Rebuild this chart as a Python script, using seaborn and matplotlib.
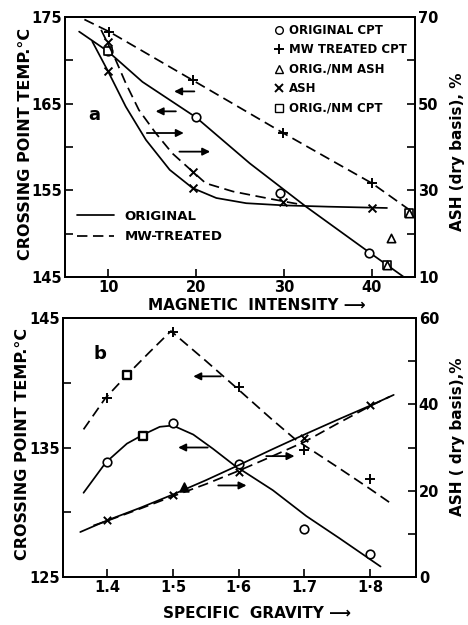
import matplotlib
matplotlib.use("Agg")
import matplotlib.pyplot as plt
from matplotlib.lines import Line2D
import seaborn as sns

sns.set_theme(style="white")
plt.rcParams['font.family'] = ['DejaVu Sans']
plt.rcParams['font.weight'] = 'bold'
plt.rcParams['text.color'] = 'black'
plt.rcParams['axes.labelcolor'] = 'black'
plt.rcParams['axes.edgecolor'] = 'black'
plt.rcParams['axes.linewidth'] = 1.4

# ---------------- Panel (a): magnetic intensity ----------------
mi_ticks = [10, 20, 30, 40]
a_temp_ticks = [145, 150, 155, 160, 165, 170, 175]
a_temp_labels = ['145', '', '155', '', '165', '', '175']
a_ash_ticks = [10, 20, 30, 40, 50, 60, 70]
a_ash_labels = ['10', '', '30', '', '50', '', '70']

a_orig_cpt_x = [10, 20, 29.5, 39.7]
a_orig_cpt_y = [171.1, 163.5, 154.7, 147.8]
a_mw_cpt_x = [10.1, 19.6, 29.9, 40.0]
a_mw_cpt_y = [173.3, 167.7, 161.6, 155.8]
a_ash_x = [10, 10, 19.6, 19.6, 29.9, 40.0]
a_ash_y = [57.4, 64.3, 30.5, 34.3, 27.2, 25.9]
a_nm_cpt_x = [10, 41.7, 44.2]
a_nm_cpt_y = [171.1, 146.4, 152.4]
a_nm_ash_x = [42.2, 41.7, 44.2]
a_nm_ash_y = [18.9, 12.8, 24.8]

a_orig_cpt_curve_x = [6.7, 10, 13.9, 20, 26.1, 32.5, 40, 43.6]
a_orig_cpt_curve_y = [173.3, 171.0, 167.5, 163.4, 158.1, 153.1, 147.6, 145.0]
a_mw_cpt_curve_x = [7.3, 10.1, 19.6, 29.9, 40.0, 44.3]
a_mw_cpt_curve_y = [174.7, 173.3, 167.7, 161.6, 155.8, 152.7]
a_orig_ash_curve_x = [8.2, 10, 12.0, 14.3, 17.0, 19.6, 22.3, 25.7, 30, 35, 41.7]
a_orig_ash_curve_y = [64.3, 57.4, 49.3, 41.6, 34.7, 30.5, 28.2, 27.0, 26.5, 26.2, 25.9]
a_mw_ash_curve_x = [9.2, 10.7, 12.0, 13.5, 15.4, 17.3, 19.6, 21.1, 24.2, 27.2, 30, 32.2]
a_mw_ash_curve_y = [67.0, 60.8, 54.7, 48.5, 43.2, 38.5, 34.3, 31.6, 29.7, 28.5, 27.4, 26.6]

# arrows: (tail_x, head_x, y)
a_left_arrows = [(19.8, 17.5, 166.4), (17.7, 15.4, 164.1)]
a_right_arrows = [(14.4, 18.6, 43.2), (18.1, 21.6, 38.9)]

# ---------------- Panel (b): specific gravity ----------------
sg_ticks = [1.4, 1.5, 1.6, 1.7, 1.8]
sg_labels = ['1.4', '1·5', '1·6', '1.7', '1·8']
b_temp_ticks = [125, 130, 135, 140, 145]
b_temp_labels = ['125', '', '135', '', '145']
b_ash_ticks = [0, 10, 20, 30, 40, 50, 60]
b_ash_labels = ['0', '', '20', '', '40', '', '60']

b_orig_cpt_x = [1.40, 1.50, 1.60, 1.70, 1.80]
b_orig_cpt_y = [133.85, 136.9, 133.7, 128.7, 126.8]
b_mw_cpt_x = [1.40, 1.50, 1.60, 1.70, 1.80]
b_mw_cpt_y = [138.8, 143.95, 139.7, 134.8, 132.6]
b_nm_cpt_x = [1.43, 1.455]
b_nm_cpt_y = [140.6, 135.9]
b_nm_ash_x = [1.517]
b_nm_ash_y = [20.9]
b_ash_x = [1.40, 1.50, 1.60, 1.70, 1.80]
b_ash_y = [13.3, 18.9, 24.3, 32.1, 39.8]

b_orig_cpt_curve_x = [1.364, 1.398, 1.43, 1.455, 1.48, 1.50, 1.531, 1.561, 1.594, 1.652, 1.703, 1.753, 1.816]
b_orig_cpt_curve_y = [131.5, 133.85, 135.3, 136.0, 136.6, 136.7, 136.0, 134.9, 133.6, 131.7, 129.7, 128.0, 125.8]
b_mw_cpt_curve_x = [1.364, 1.397, 1.43, 1.465, 1.497, 1.55, 1.597, 1.65, 1.687, 1.75, 1.80, 1.834]
b_mw_cpt_curve_y = [136.4, 138.8, 140.6, 142.4, 144.0, 141.7, 139.6, 137.2, 135.6, 133.5, 131.8, 130.6]
b_orig_ash_curve_x = [1.359, 1.40, 1.45, 1.50, 1.55, 1.60, 1.65, 1.70, 1.75, 1.80, 1.836]
b_orig_ash_curve_y = [10.4, 13.1, 16.0, 19.1, 22.4, 25.9, 29.5, 33.0, 36.4, 39.7, 42.2]
b_mw_ash_curve_x = [1.379, 1.40, 1.45, 1.50, 1.55, 1.60, 1.65, 1.70, 1.75, 1.80, 1.83]
b_mw_ash_curve_y = [11.9, 13.0, 15.8, 18.7, 21.5, 24.6, 27.9, 31.3, 35.5, 39.6, 41.8]

b_left_arrows = [(1.573, 1.531, 140.5), (1.553, 1.508, 135.0)]
b_right_arrows = [(1.569, 1.612, 21.2), (1.642, 1.685, 28.0)]

# ---------------- styling ----------------
LW = 1.25
DASH = (0, (6, 3.2))
TICKFS = 10.5

fig = plt.figure(figsize=(4.68, 6.25), dpi=100)
fig.patch.set_facecolor('white')

ax_a = fig.add_axes([0.139, 0.557, 0.748, 0.416])
ax_b = fig.add_axes([0.135, 0.077, 0.754, 0.414])


def line(ax, x, y, dashed=False):
    sns.lineplot(x=x, y=y, ax=ax, color='black', lw=LW, sort=False,
                 estimator=None, linestyle=DASH if dashed else '-')


def pts(ax, x, y, marker, s, filled=False, lw=1.2):
    if marker in ('+', 'x'):
        sns.scatterplot(x=x, y=y, ax=ax, marker=marker, s=s, color='black',
                        linewidth=lw, zorder=4)
    else:
        sns.scatterplot(x=x, y=y, ax=ax, marker=marker, s=s,
                        color='black' if filled else 'white',
                        edgecolor='black', linewidth=lw, zorder=4)


def arrow(ax, tail, head, y):
    ax.annotate('', xy=(head, y), xytext=(tail, y),
                arrowprops=dict(arrowstyle='-|>', color='black', lw=1.3,
                                mutation_scale=11, shrinkA=0, shrinkB=0))


def style_axes(ax, ax2):
    for a in (ax, ax2):
        a.tick_params(which='both', direction='in', length=6, width=1.2,
                      labelsize=TICKFS, colors='black', pad=2)
        for sp in a.spines.values():
            sp.set_linewidth(1.4)
            sp.set_color('black')
        a.set_xlabel('')
        a.set_ylabel('')
        a.grid(False)
    ax.tick_params(axis='y', left=True, right=False)
    ax.tick_params(axis='x', bottom=True, top=False)
    ax2.tick_params(axis='y', right=True, left=False)


# ---------- Panel a ----------
ax2_a = ax_a.twinx()
line(ax_a, a_orig_cpt_curve_x, a_orig_cpt_curve_y)
line(ax_a, a_mw_cpt_curve_x, a_mw_cpt_curve_y, dashed=True)
line(ax2_a, a_orig_ash_curve_x, a_orig_ash_curve_y)
line(ax2_a, a_mw_ash_curve_x, a_mw_ash_curve_y, dashed=True)
pts(ax_a, a_orig_cpt_x, a_orig_cpt_y, 'o', 38)
pts(ax_a, a_mw_cpt_x, a_mw_cpt_y, '+', 60, lw=1.4)
pts(ax_a, a_nm_cpt_x, a_nm_cpt_y, 's', 34)
pts(ax2_a, a_ash_x, a_ash_y, 'x', 32, lw=1.4)
pts(ax2_a, a_nm_ash_x, a_nm_ash_y, '^', 36)
for t, h, y in a_left_arrows:
    arrow(ax_a, t, h, y)
for t, h, y in a_right_arrows:
    arrow(ax2_a, t, h, y)

ax_a.set_xlim(5.1, 44.9)
ax_a.set_ylim(145, 175)
ax2_a.set_ylim(10, 70)
ax_a.set_xticks(mi_ticks)
ax_a.set_xticklabels([str(v) for v in mi_ticks])
ax_a.set_yticks(a_temp_ticks)
ax_a.set_yticklabels(a_temp_labels)
ax2_a.set_yticks(a_ash_ticks)
ax2_a.set_yticklabels(a_ash_labels)
style_axes(ax_a, ax2_a)
ax_a.text(8.4, 163.7, 'a', fontsize=13, ha='center', va='center',
          color='black')

# ---------- Panel b ----------
ax2_b = ax_b.twinx()
line(ax_b, b_orig_cpt_curve_x, b_orig_cpt_curve_y)
line(ax_b, b_mw_cpt_curve_x, b_mw_cpt_curve_y, dashed=True)
line(ax2_b, b_orig_ash_curve_x, b_orig_ash_curve_y)
line(ax2_b, b_mw_ash_curve_x, b_mw_ash_curve_y, dashed=True)
pts(ax_b, b_orig_cpt_x, b_orig_cpt_y, 'o', 38)
pts(ax_b, b_mw_cpt_x, b_mw_cpt_y, '+', 50, lw=1.4)
pts(ax_b, b_nm_cpt_x, b_nm_cpt_y, 's', 40, lw=1.7)
pts(ax2_b, b_ash_x, b_ash_y, 'x', 28, lw=1.4)
pts(ax2_b, b_nm_ash_x, b_nm_ash_y, '^', 40, filled=True)
for t, h, y in b_left_arrows:
    arrow(ax_b, t, h, y)
for t, h, y in b_right_arrows:
    arrow(ax2_b, t, h, y)

ax_b.set_xlim(1.333, 1.87)
ax_b.set_ylim(125, 145)
ax2_b.set_ylim(0, 60)
ax_b.set_xticks(sg_ticks)
ax_b.set_xticklabels(sg_labels)
ax_b.set_yticks(b_temp_ticks)
ax_b.set_yticklabels(b_temp_labels)
ax2_b.set_yticks(b_ash_ticks)
ax2_b.set_yticklabels(b_ash_labels)
style_axes(ax_b, ax2_b)
ax_b.text(1.389, 142.2, 'b', fontsize=13, ha='center', va='center',
          color='black')

# ---------- axis titles ----------
LABFS = 11.5
fig.text(0.054, 1 - 144 / 625, 'CROSSING POINT TEMP.°C', rotation=90,
         ha='center', va='center', fontsize=LABFS, color='black')
fig.text(0.048, 1 - 444 / 625, 'CROSSING POINT TEMP.°C', rotation=90,
         ha='center', va='center', fontsize=LABFS, color='black')
fig.text(0.977, 1 - 152 / 625, 'ASH (dry basis), %', rotation=90,
         ha='center', va='center', fontsize=11, color='black')
fig.text(0.977, 1 - 437 / 625, 'ASH ( dry basis),%', rotation=90,
         ha='center', va='center', fontsize=11, color='black')
fig.text(0.549, 1 - 306 / 625, 'MAGNETIC  INTENSITY ⟶', ha='center',
         va='center', fontsize=11, color='black')
fig.text(0.55, 1 - 614 / 625, 'SPECIFIC  GRAVITY ⟶', ha='center',
         va='center', fontsize=11, color='black')

# ---------- legends ----------
mk = dict(color='black', linestyle='none', markeredgecolor='black')
marker_handles = [
    Line2D([], [], marker='o', markerfacecolor='white', markersize=5.5, **mk),
    Line2D([], [], marker='+', markersize=7, markeredgewidth=1.4, **mk),
    Line2D([], [], marker='^', markerfacecolor='white', markersize=6, **mk),
    Line2D([], [], marker='x', markersize=5.5, markeredgewidth=1.4, **mk),
    Line2D([], [], marker='s', markerfacecolor='white', markersize=5.5, **mk),
]
marker_labels = ['ORIGINAL CPT', 'MW TREATED CPT', 'ORIG./NM ASH', 'ASH',
                 'ORIG./NM CPT']
lg1 = fig.legend(marker_handles, marker_labels, loc='upper left',
                 bbox_to_anchor=(0.583, 0.962), frameon=False, fontsize=8.5,
                 handlelength=1.0, handletextpad=0.35, labelspacing=0.55,
                 borderpad=0, borderaxespad=0, labelcolor='black')

line_handles = [Line2D([], [], color='black', lw=LW),
                Line2D([], [], color='black', lw=LW, linestyle=DASH)]
lg2 = fig.legend(line_handles, ['ORIGINAL', 'MW-TREATED'], loc='upper left',
                 bbox_to_anchor=(0.165, 0.664), frameon=False, fontsize=9.5,
                 handlelength=2.8, handletextpad=0.8, labelspacing=0.55,
                 borderpad=0, borderaxespad=0, labelcolor='black')

fig.savefig('out.png', dpi=100, facecolor='white')
